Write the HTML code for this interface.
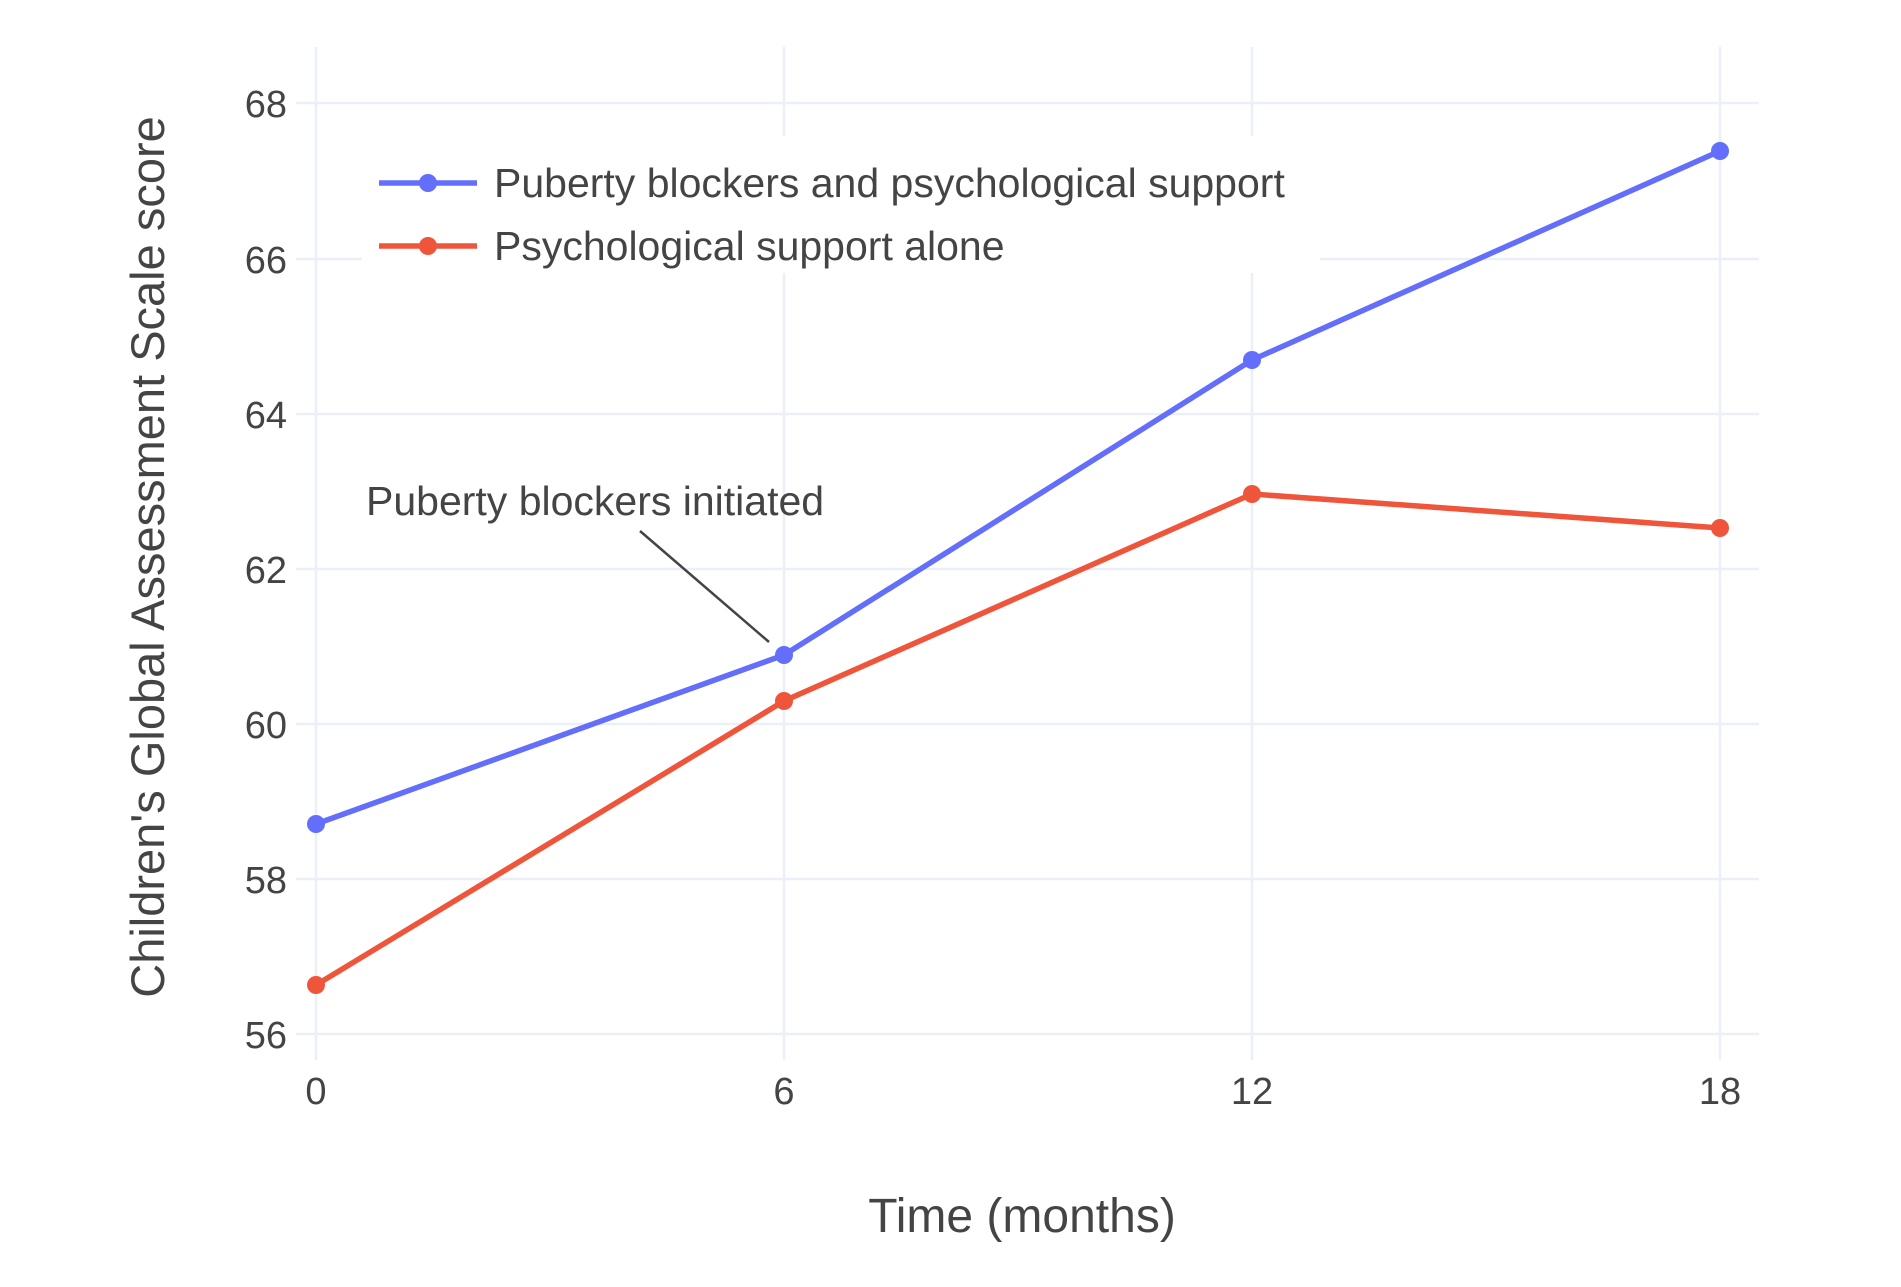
<!DOCTYPE html>
<html><head><meta charset="utf-8"><style>body{margin:0;background:#fff}</style></head>
<body>
<svg width="1901" height="1282" xmlns="http://www.w3.org/2000/svg" font-family="'Liberation Sans', sans-serif" fill="#444">
<g stroke="#EBF0F8" stroke-width="2.5">
<line x1="316" y1="47" x2="316" y2="1060"/><line x1="784" y1="47" x2="784" y2="1060"/>
<line x1="1252" y1="47" x2="1252" y2="1060"/><line x1="1720" y1="47" x2="1720" y2="1060"/>
<line x1="296" y1="103" x2="1759" y2="103"/><line x1="296" y1="259" x2="1759" y2="259"/>
<line x1="296" y1="414" x2="1759" y2="414"/><line x1="296" y1="569" x2="1759" y2="569"/>
<line x1="296" y1="724" x2="1759" y2="724"/><line x1="296" y1="879" x2="1759" y2="879"/>
<line x1="296" y1="1034" x2="1759" y2="1034"/>
</g>
<rect x="362" y="136" width="958" height="137" fill="#fff"/>
<g font-size="38" text-anchor="end">
<text x="287" y="117">68</text><text x="287" y="273">66</text><text x="287" y="428">64</text>
<text x="287" y="583">62</text><text x="287" y="738">60</text><text x="287" y="893">58</text><text x="287" y="1048">56</text>
</g>
<g font-size="38" text-anchor="middle">
<text x="316" y="1104">0</text><text x="784" y="1104">6</text><text x="1252" y="1104">12</text><text x="1720" y="1104">18</text>
</g>
<text x="1022" y="1232" font-size="48" text-anchor="middle">Time (months)</text>
<text transform="translate(164,557) rotate(-90)" font-size="47" text-anchor="middle">Children's Global Assessment Scale score</text>
<polyline points="316,824 784,655 1252,360 1720,151" fill="none" stroke="#636EFA" stroke-width="5.5"/>
<polyline points="316,985 784,701 1252,494 1720,528" fill="none" stroke="#EF553B" stroke-width="5.5"/>
<g fill="#636EFA"><circle cx="316" cy="824" r="9"/><circle cx="784" cy="655" r="9"/><circle cx="1252" cy="360" r="9"/><circle cx="1720" cy="151" r="9"/></g>
<g fill="#EF553B"><circle cx="316" cy="985" r="9"/><circle cx="784" cy="701" r="9"/><circle cx="1252" cy="494" r="9"/><circle cx="1720" cy="528" r="9"/></g>
<line x1="379" y1="183" x2="477" y2="183" stroke="#636EFA" stroke-width="5.5"/><circle cx="428" cy="183" r="9" fill="#636EFA"/>
<line x1="379" y1="246" x2="477" y2="246" stroke="#EF553B" stroke-width="5.5"/><circle cx="428" cy="246" r="9" fill="#EF553B"/>
<text x="494" y="197" font-size="41">Puberty blockers and psychological support</text>
<text x="494" y="260" font-size="41">Psychological support alone</text>
<text x="366" y="515" font-size="41">Puberty blockers initiated</text>
<line x1="640" y1="531" x2="769" y2="642" stroke="#444" stroke-width="2.5"/>
</svg>
</body></html>
